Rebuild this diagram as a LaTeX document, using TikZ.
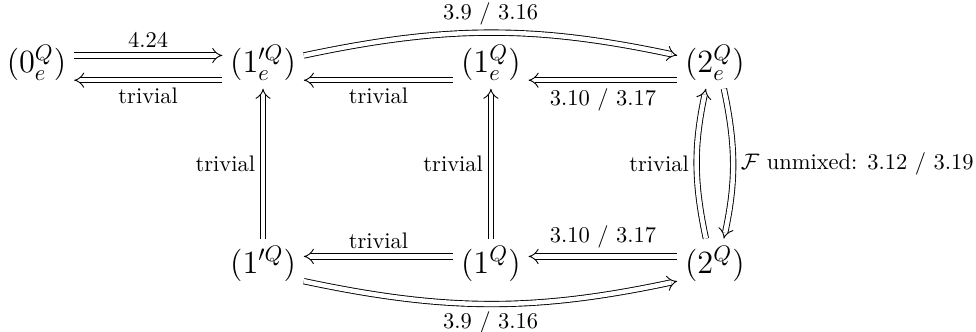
\documentclass[tikz,border=0pt]{standalone}
\usepackage{amsmath}
\usetikzlibrary{arrows.meta}

\begin{document}
\begin{tikzpicture}[>={Implies},
    st/.style={font=\Large, anchor=mid},
    imp/.style={double, double distance=2pt, ->}]
  \useasboundingbox (0,0) rectangle (15.25,-5.172);

  % Top row
  \node[st] (z0e) at (0.57,-1.06) {$(0^Q_e)$};
  \node[st] (o1pe) at (4.11,-1.06) {$(1'^Q_e)$};
  \node[st] (o1e) at (7.67,-1.06) {$(1^Q_e)$};
  \node[st] (t2e) at (11.17,-1.06) {$(2^Q_e)$};

  % Bottom row
  \node[st] (o1p) at (4.11,-4.2) {$(1'^Q)$};
  \node[st] (o1) at (7.67,-4.2) {$(1^Q)$};
  \node[st] (t2) at (11.17,-4.2) {$(2^Q)$};

  % Horizontal arrows, top
  \draw[imp] ([yshift=5.5pt]z0e.mid east) -- node[above] {4.24} ([yshift=5.5pt]o1pe.mid west);
  \draw[imp] ([yshift=-5.5pt]o1pe.mid west) -- node[below] {trivial} ([yshift=-5.5pt]z0e.mid east);
  \draw[imp] ([yshift=5.5pt]o1pe.mid east) to[bend left=12]
    node[above] {3.9 / 3.16} ([yshift=5.5pt]t2e.mid west);
  \draw[imp] ([yshift=-5.5pt]o1e.mid west) -- node[below] {trivial} ([yshift=-5.5pt]o1pe.mid east);
  \draw[imp] ([yshift=-5.5pt]t2e.mid west) -- node[below] {3.10 / 3.17} ([yshift=-5.5pt]o1e.mid east);

  % Horizontal arrows, bottom
  \draw[imp] ([yshift=5.5pt]o1.mid west) -- node[above] {trivial} ([yshift=5.5pt]o1p.mid east);
  \draw[imp] ([yshift=5.5pt]t2.mid west) -- node[above] {3.10 / 3.17} ([yshift=5.5pt]o1.mid east);
  \draw[imp] ([yshift=-5.5pt]o1p.mid east) to[bend right=12]
    node[below] {3.9 / 3.16} ([yshift=-5.5pt]t2.mid west);

  % Vertical arrows
  \draw[imp] (o1p) -- node[left] {trivial} (o1pe);
  \draw[imp] (o1) -- node[left] {trivial} (o1e);
  \draw[imp] ([xshift=-4pt]t2.north) to[bend left=12]
    node[left] {trivial} ([xshift=-4pt]t2e.south);
  \draw[imp] ([xshift=4pt]t2e.south) to[bend left=12]
    node[right] {$\mathcal{F}$ unmixed: 3.12 / 3.19} ([xshift=4pt]t2.north);
\end{tikzpicture}
\end{document}
